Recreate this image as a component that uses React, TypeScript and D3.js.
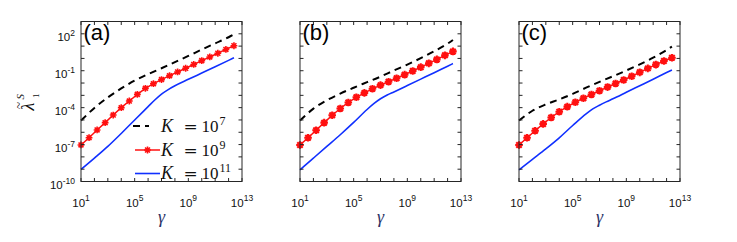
import * as d3 from "d3"

// log10 of gamma for the red marker curve, and for the black/blue curves
const redGammaExp = [1, 1.6, 2.2, 2.8, 3.4, 4.0, 4.6, 5.2, 5.8, 6.4, 7.0, 7.6, 8.2, 8.8, 9.4, 10.0, 10.6, 11.2, 11.8, 12.4]
const blackGammaExp = [1, 2, 3, 4, 5, 6, 7, 8, 9, 10, 11, 12, 12.4]
const blueGammaExp = [1, 2, 3, 4, 5, 6, 6.5, 7, 7.5, 8, 9, 10, 11, 12, 12.4]

// log10 of lambda, panel (a)
const blackA = [-5.05, -4.02, -3.17, -2.44, -1.8, -1.28, -0.8, -0.3, 0.2, 0.72, 1.22, 1.72, 1.95]
const redA = [-7.03, -6.44, -5.81, -5.22, -4.6, -4.0, -3.46, -2.92, -2.43, -2.05, -1.72, -1.4, -1.1, -0.8, -0.49, -0.18, 0.12, 0.42, 0.73, 1.03]
const blueA = [-9.02, -8.1, -7.15, -6.1, -5.0, -3.92, -3.38, -2.9, -2.53, -2.22, -1.7, -1.19, -0.68, -0.16, 0.05]

// panel (b)
const blackB = [-5.05, -4.08, -3.4, -2.86, -2.38, -1.93, -1.48, -0.98, -0.5, 0.02, 0.58, 1.2, 1.5]
const redB = [-7.03, -6.44, -5.83, -5.22, -4.62, -4.07, -3.58, -3.16, -2.8, -2.47, -2.17, -1.89, -1.61, -1.32, -1.02, -0.71, -0.4, -0.08, 0.25, 0.57]
const blueB = [-9.05, -8.1, -7.15, -6.2, -5.2, -4.15, -3.68, -3.28, -2.97, -2.72, -2.2, -1.68, -1.16, -0.63, -0.42]

// panel (c)
const blackC = [-5.05, -4.25, -3.73, -3.33, -2.88, -2.38, -1.9, -1.45, -0.98, -0.48, 0.06, 0.68, 0.96]
const redC = [-7.03, -6.45, -5.88, -5.32, -4.8, -4.33, -3.92, -3.56, -3.23, -2.93, -2.63, -2.33, -2.04, -1.75, -1.45, -1.13, -0.81, -0.5, -0.21, 0.06]
const blueC = [-9.05, -8.2, -7.35, -6.45, -5.45, -4.5, -4.1, -3.8, -3.53, -3.28, -2.75, -2.22, -1.69, -1.15, -0.94]

const xTickLabels = [1, 5, 9, 13]
const yTickLabels = [2, -1, -4, -7, -10]
const legendLabels = ["7", "9", "11"]

const panels = [
  { left: 81, label: "(a)", black: blackA, red: redA, blue: blueA },
  { left: 300, label: "(b)", black: blackB, red: redB, blue: blueB },
  { left: 519, label: "(c)", black: blackC, red: redC, blue: blueC },
]

const TOP = 21.5
const BOTTOM = 181.5
const W = 161
const AXIS = "#262626"
const RED = "#ff1010"
const BLUE = "#1030ff"
const SANS = "'Liberation Sans', Arial, sans-serif"
const SERIF = "'Liberation Serif', 'Times New Roman', serif"

function star(r: number) {
  const d = r * 0.72
  return `M${-r},0H${r}M0,${-r}V${r}M${-d},${-d}L${d},${d}M${-d},${d}L${d},${-d}`
}

function Panel({ left, label, black, red, blue, first }: any) {
  const x = d3.scaleLog().domain([1e1, 1e13]).range([left, left + W])
  const y = d3.scaleLog().domain([1e-10, 1e3]).range([BOTTOM, TOP])
  const line = d3.line<[number, number]>()
    .x(d => x(Math.pow(10, d[0])))
    .y(d => y(Math.pow(10, d[1])))
  const smooth = line.curve(d3.curveMonotoneX)
  const pts = (xs: number[], ys: number[]) => xs.map((v, i) => [v, ys[i]] as [number, number])
  const blackPath = smooth(pts(blackGammaExp, black)) || ""
  const bluePath = smooth(pts(blueGammaExp, blue)) || ""
  const redPts = pts(redGammaExp, red)
  const redPath = d3.line<[number, number]>()
    .x(d => x(Math.pow(10, d[0])))
    .y(d => y(Math.pow(10, d[1])))(redPts) || ""
  const xDec = d3.range(1, 14)
  const yDec = d3.range(-10, 4)
  const tl = 3.5
  const mr = first ? 3.4 : 3.8
  const mw = first ? 1.6 : 2.1

  return (
    <g>
      <path d={blackPath} fill="none" stroke="#000" strokeWidth={2} strokeDasharray="7 5" />
      <path d={redPath} fill="none" stroke={RED} strokeWidth={1.5} />
      {redPts.map((p, i) => (
        <path key={i} d={star(mr)} transform={`translate(${x(Math.pow(10, p[0]))},${y(Math.pow(10, p[1]))})`}
          stroke={RED} strokeWidth={mw} fill="none" />
      ))}
      <path d={bluePath} fill="none" stroke={BLUE} strokeWidth={1.6} />

      <rect x={left} y={TOP} width={W} height={BOTTOM - TOP} fill="none" stroke={AXIS} strokeWidth={1} />
      {xDec.map(e => {
        const px = x(Math.pow(10, e))
        return (
          <g key={"x" + e}>
            <line x1={px} x2={px} y1={BOTTOM} y2={BOTTOM - tl} stroke={AXIS} />
            <line x1={px} x2={px} y1={TOP} y2={TOP + tl} stroke={AXIS} />
          </g>
        )
      })}
      {yDec.map(e => {
        const py = y(Math.pow(10, e))
        return (
          <g key={"y" + e}>
            <line x1={left} x2={left + tl} y1={py} y2={py} stroke={AXIS} />
            <line x1={left + W} x2={left + W - tl} y1={py} y2={py} stroke={AXIS} />
          </g>
        )
      })}
      {xTickLabels.map(e => (
        <text key={"xl" + e} x={x(Math.pow(10, e))} y={206.5} textAnchor="middle" fontFamily={SANS} fill="#111">
          <tspan fontSize={11.5}>10</tspan>
          <tspan fontSize={8.5} dy={-5.5}>{e}</tspan>
        </text>
      ))}
      {first && yTickLabels.map(e => (
        <text key={"yl" + e} x={75} y={y(Math.pow(10, e)) + 7.5} textAnchor="end" fontFamily={SANS} fill="#111">
          <tspan fontSize={11.5}>10</tspan>
          <tspan fontSize={8.5} dy={-5.5}>{e}</tspan>
        </text>
      ))}
      <text x={left + W / 2} y={222.5} textAnchor="middle" fontFamily={SERIF} fontStyle="italic" fontSize={18} fill="#2b3266">γ</text>
      <text x={left + 2.5} y={39.5} fontFamily={SANS} fontSize={22} fill="#000">{label}</text>
    </g>
  )
}

function Legend() {
  const rows = [126, 150, 173.5]
  return (
    <g>
      <line x1={133} x2={149} y1={rows[0]} y2={rows[0]} stroke="#000" strokeWidth={2} strokeDasharray="7 5" />
      <line x1={135} x2={160} y1={rows[1]} y2={rows[1]} stroke={RED} strokeWidth={1.5} />
      <path d={star(3.4)} transform={`translate(147.5,${rows[1]})`} stroke={RED} strokeWidth={1.6} fill="none" />
      <line x1={135} x2={160} y1={rows[2]} y2={rows[2]} stroke={BLUE} strokeWidth={1.6} />
      {legendLabels.map((s, i) => (
        <g key={s} fill="#111">
          <text x={161} y={rows[i] + 5.5} fontSize={18} fontFamily={SERIF} fontStyle="italic">K</text>
          <text x={190.5} y={rows[i] + 5.5} fontSize={17} fontFamily="'DejaVu Serif', serif" textAnchor="middle">=</text>
          <text x={201.5} y={rows[i] + 5.5} fontSize={17} fontFamily={SERIF}>10</text>
          <text x={219.5} y={rows[i] - 1.5} fontSize={12} fontFamily={SERIF}>{s}</text>
        </g>
      ))}
    </g>
  )
}

export default function App() {
  return (
    <div style={{ position: "fixed", left: 0, top: 0 }}>
      <svg width={737} height={242} style={{ display: "block", background: "#fff" }}>
        {panels.map((p, i) => <Panel key={p.label} {...p} first={i === 0} />)}
        <Legend />
        <g transform="translate(34,110.5) rotate(-90)" fill="#111">
          <text x={0} y={0} fontFamily={SERIF} fontStyle="italic" fontSize={18}>λ</text>
          <text x={1.5} y={-11} fontFamily={SERIF} fontSize={13}>~</text>
          <text x={11} y={-10.5} fontFamily={SERIF} fontStyle="italic" fontSize={11}>S</text>
          <text x={12.5} y={4.5} fontFamily={SERIF} fontSize={9}>1</text>
        </g>
      </svg>
    </div>
  )
}
